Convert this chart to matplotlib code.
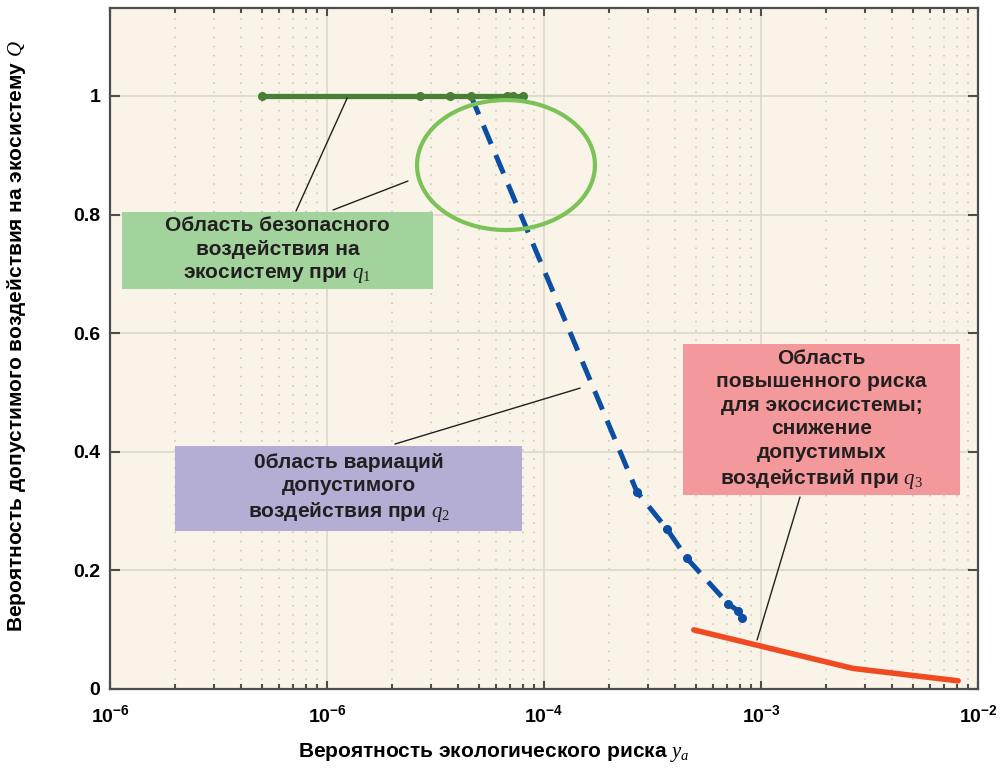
import numpy as np
import matplotlib
matplotlib.use('Agg')
import matplotlib.pyplot as plt
from matplotlib.patches import Rectangle

plt.rcParams['font.family'] = ['Liberation Sans', 'DejaVu Sans']
plt.rcParams['mathtext.fontset'] = 'custom'
plt.rcParams['mathtext.rm'] = 'Liberation Serif'
plt.rcParams['mathtext.it'] = 'Liberation Serif:italic'
plt.rcParams['mathtext.bf'] = 'Liberation Sans:bold'

# q1 - безопасное воздействие
q1_y = [5.0e-6, 2.68e-5, 3.69e-5, 4.61e-5, 6.75e-5, 7.2e-5, 8.0e-5]
q1_Q = [1, 1, 1, 1, 1, 1, 1]
# q2 - область вариаций
q2_y = [4.61e-5, 2.68e-4, 3.69e-4, 4.55e-4, 7.05e-4, 7.85e-4, 8.2e-4]
q2_Q = [1.0, 0.332, 0.269, 0.220, 0.143, 0.131, 0.119]
# q3 - повышенный риск
q3_y = [4.9e-4, 2.65e-3, 8.1e-3]
q3_Q = [0.099, 0.034, 0.013]

xticks = [1e-6, 1e-5, 1e-4, 1e-3, 1e-2]
xtick_labels = [r'$\mathbf{10^{-6}}$', r'$\mathbf{10^{-6}}$', r'$\mathbf{10^{-4}}$',
                r'$\mathbf{10^{-3}}$', r'$\mathbf{10^{-2}}$']
yticks = [0, 0.2, 0.4, 0.6, 0.8, 1]
ytick_labels = ['0', '0.2', '0.4', '0.6', '0.8', '1']

# эллипс вокруг точки перехода q1 -> q2 (центр в log10 y, полуоси)
ell_logx, ell_Q, ell_a, ell_b = np.log10(6.68e-5), 0.8835, 0.41, 0.1097

fig = plt.figure(figsize=(10.04, 7.70), dpi=100)
ax = fig.add_axes([0.1096, 0.1058, 0.8645, 0.8838])
ax.set_facecolor('#FAF4E8')
ax.set_xscale('log')
ax.set_xlim(1e-6, 1e-2)
ax.set_ylim(0, 1.1485)

ax.grid(which='major', color='#DDD8CC', lw=1.2, zorder=0)
ax.grid(which='minor', axis='x', color='#C4C4C0', linestyle=(0, (1, 5)), lw=1.1, zorder=0)
ax.set_axisbelow(True)

ax.plot(q2_y, q2_Q, color='#0B4EA2', lw=3.6, linestyle=(0, (4, 2.4)), zorder=3)
ax.plot(q2_y[1:], q2_Q[1:], 'o', color='#0B4EA2', ms=5.5, zorder=3)
ax.plot(q1_y, q1_Q, '-o', color='#4A7F37', lw=3.8, ms=5.5, zorder=4)
ax.plot(q3_y, q3_Q, '-', color='#F04A22', lw=4, solid_capstyle='round', zorder=3)

t = np.linspace(0, 2 * np.pi, 300)
ax.plot(10 ** (ell_logx + ell_a * np.cos(t)), ell_Q + ell_b * np.sin(t),
        color='#7BC257', lw=3, zorder=4)

# подписи областей
boxes = [
    ((0.0138, 0.587), 0.3583, 0.113, '#A3D39C',
     'Область безопасного\nвоздействия на\nэкосистему при $q_1$'),
    ((0.0749, 0.2314), 0.3998, 0.125, '#B4AED5',
     '0бласть вариаций\nдопустимого\nвоздействия при $q_2$'),
    ((0.6605, 0.2843), 0.3188, 0.2219, '#F4999B',
     'Область\nповышенного риска\nдля экосисистемы;\nснижение\nдопустимых\nвоздействий при $q_3$'),
]
for (x0, y0), w, h, c, txt in boxes:
    ax.add_patch(Rectangle((x0, y0), w, h, transform=ax.transAxes, facecolor=c,
                           edgecolor='none', zorder=5))
    ax.text(x0 + w / 2, y0 + h / 2, txt, transform=ax.transAxes, ha='center', va='center',
            fontsize=15, fontweight='bold', color='#231F20', linespacing=1.3, zorder=6)

leaders = [((1.24e-5, 0.997), (0.2143, 0.7017)),
           ((2.36e-5, 0.8565), (0.2569, 0.7032)),
           ((1.466e-4, 0.507), (0.3283, 0.3593)),
           ((9.59e-4, 0.0819), (0.7949, 0.2814))]
for xy, xyt in leaders:
    ax.annotate('', xy=xy, xycoords='data', xytext=xyt, textcoords='axes fraction',
                arrowprops=dict(arrowstyle='-', color='#231F20', lw=1,
                                shrinkA=0, shrinkB=0), zorder=6)

ax.set_xticks(xticks)
ax.set_xticklabels(xtick_labels, fontsize=14)
ax.set_yticks(yticks)
ax.set_yticklabels(ytick_labels, fontsize=14, fontweight='bold')
ax.tick_params(which='both', direction='in', top=True, right=True, color='#4D4D4D', width=1.5)
ax.tick_params(axis='x', which='major', length=6, pad=11)
ax.tick_params(axis='x', which='minor', length=3.4)
ax.tick_params(axis='y', which='major', length=7, pad=7)
for s in ax.spines.values():
    s.set_color('#4D4D4D')
    s.set_linewidth(1.6)

ax.set_xlabel('Вероятность экологического риска $y_a$', fontsize=15, fontweight='bold')
ax.xaxis.set_label_coords(0.4424, -0.077)
ax.set_ylabel('Вероятность допустимого воздействия на экосистему $Q$', fontsize=15,
              fontweight='bold')
ax.yaxis.set_label_coords(-0.0945, 0.518)

fig.savefig('out.png', dpi=100)
